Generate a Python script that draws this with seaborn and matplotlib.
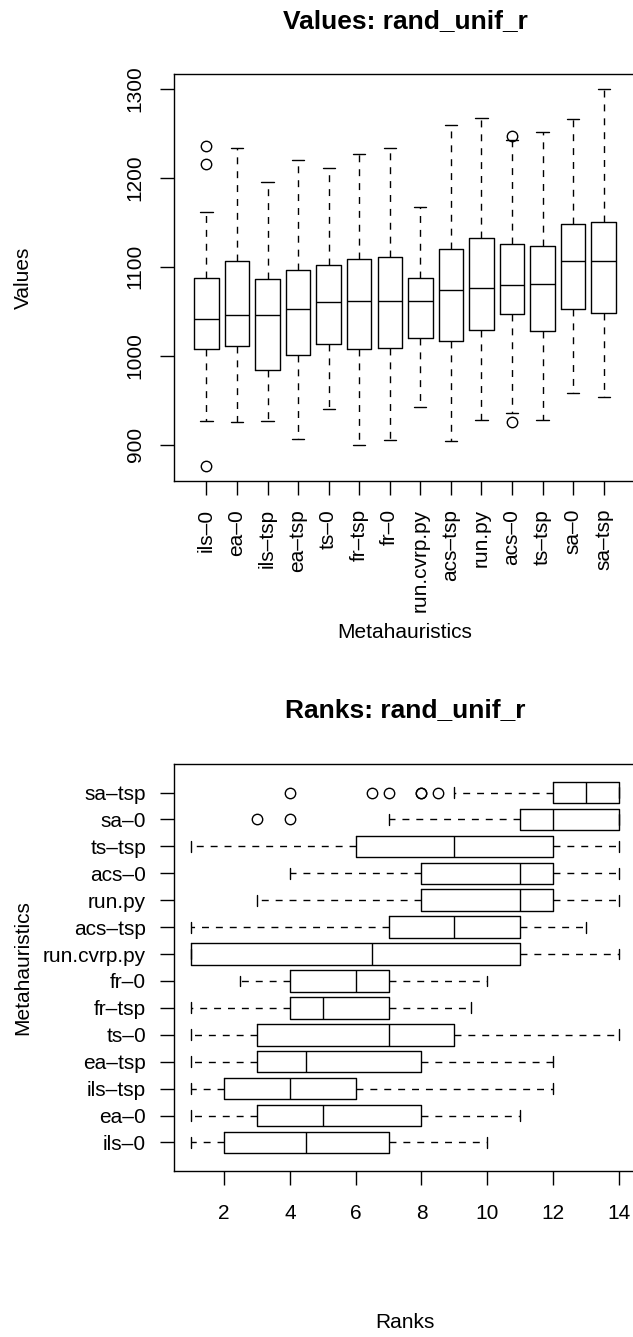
"""
Boxplots of metaheuristic results on rand_unif_r:
raw values (top) and per-instance ranks (bottom), R base-graphics look.
"""

import pandas as pd
import matplotlib
matplotlib.use("Agg")
import matplotlib.pyplot as plt
import seaborn as sns

W, H, DPI = 633, 1337, 100

methods = ["ils–0", "ea–0", "ils–tsp", "ea–tsp", "ts–0", "fr–tsp", "fr–0",
           "run.cvrp.py", "acs–tsp", "run.py", "acs–0", "ts–tsp", "sa–0", "sa–tsp"]

# Values panel, box statistics (same order as methods)
val_lo = [927, 925, 927, 906, 940, 899, 905, 942, 904, 928, 936, 928, 958, 954]
val_q1 = [1007, 1011, 984, 1001, 1013, 1007, 1009, 1020, 1016, 1029, 1047, 1028, 1053, 1048]
val_med = [1041, 1046, 1046, 1052, 1060, 1061, 1061, 1061, 1074, 1076, 1079, 1081, 1107, 1107]
val_q3 = [1087, 1107, 1086, 1096, 1102, 1109, 1111, 1087, 1120, 1132, 1126, 1123, 1148, 1151]
val_hi = [1162, 1234, 1196, 1220, 1211, 1227, 1234, 1167, 1260, 1267, 1243, 1252, 1266, 1300]
val_fliers = [[876, 1216, 1236], [], [], [], [], [], [], [], [], [], [925, 1247], [], [], []]

# Ranks panel
rank_lo = [1, 1, 1, 1, 1, 1, 2.5, 1, 1, 3, 4, 1, 7, 9]
rank_q1 = [2, 3, 2, 3, 3, 4, 4, 1, 7, 8, 8, 6, 11, 12]
rank_med = [4.5, 5, 4, 4.5, 7, 5, 6, 6.5, 9, 11, 11, 9, 12, 13]
rank_q3 = [7, 8, 6, 8, 9, 7, 7, 11, 11, 12, 12, 12, 14, 14]
rank_hi = [10, 11, 12, 12, 14, 9.5, 10, 14, 13, 14, 14, 14, 14, 14]
rank_fliers = [[], [], [], [], [], [], [], [], [], [], [], [], [3, 4], [4, 6.5, 7, 8, 8, 8.5]]


def box_sample(lo, q1, med, q3, hi, fliers):
    # 4k+1 points so that np.percentile lands exactly on q1/med/q3
    low = sorted(f for f in fliers if f < q1)
    high = sorted(f for f in fliers if f > q3)
    k = max(len(low), len(high)) + 1
    return (low + [lo] * (k - len(low)) + [q1] * k + [med] * k + [q3]
            + [hi] * (k - len(high)) + high)


def long_frame(lo, q1, med, q3, hi, fliers):
    rows = []
    for i, m in enumerate(methods):
        for v in box_sample(lo[i], q1[i], med[i], q3[i], hi[i], fliers[i]):
            rows.append((m, v))
    return pd.DataFrame(rows, columns=["method", "value"])


def px_rect(x0, y0, x1, y1):
    return [x0 / W, 1 - y1 / H, (x1 - x0) / W, (y1 - y0) / H]


def fig_text(fig, x, y, s, **kw):
    fig.text(x / W, 1 - y / H, s, ha="center", va="center", color="black", **kw)


sns.set_theme(style="white")
plt.rcParams["font.family"] = ["Liberation Sans", "DejaVu Sans"]
plt.rcParams["axes.edgecolor"] = "black"
plt.rcParams["axes.linewidth"] = 1.0
plt.rcParams["text.color"] = "black"

FS = 15
box_kw = dict(
    fill=False, color="black", linecolor="black", width=0.8, whis=1.5,
    linewidth=1.0, fliersize=7.5,
    boxprops=dict(color="black", linewidth=1.0),
    whiskerprops=dict(color="black", linewidth=1.0, linestyle=(0, (5, 5))),
    capprops=dict(color="black", linewidth=1.0),
    medianprops=dict(color="black", linewidth=1.0),
    flierprops=dict(marker="o", markerfacecolor="none", markeredgecolor="black",
                    markeredgewidth=1.0, markersize=7.5),
)

val_df = long_frame(val_lo, val_q1, val_med, val_q3, val_hi, val_fliers)
rank_df = long_frame(rank_lo, rank_q1, rank_med, rank_q3, rank_hi, rank_fliers)

fig = plt.figure(figsize=(W / DPI, H / DPI), dpi=DPI)
fig.patch.set_facecolor("white")

# 1) Values
ax1 = fig.add_axes(px_rect(174, 74, 636, 481))
sns.boxplot(data=val_df, x="method", y="value", order=methods, ax=ax1, **box_kw)
ax1.set_xlim(-1.06, 14.06)
ax1.set_ylim(859, 1317)
ax1.set_yticks([900, 1000, 1100, 1200, 1300])
ax1.set_xlabel("")
ax1.set_ylabel("")
ax1.tick_params(axis="both", direction="out", length=10, width=1, color="black",
                labelsize=FS, labelcolor="black", left=True, bottom=True)
ax1.tick_params(axis="x", labelrotation=90, pad=10)
ax1.tick_params(axis="y", labelrotation=90, pad=11)
for t in ax1.get_yticklabels():
    t.set_va("center")

fig_text(fig, 405, 21, "Values: rand_unif_r", fontsize=19, fontweight="bold")
fig_text(fig, 23, 277.5, "Values", fontsize=FS, rotation=90)
fig_text(fig, 405, 633, "Metahauristics", fontsize=FS)

# 2) Ranks
ax2 = fig.add_axes(px_rect(174, 764, 636, 1171))
sns.boxplot(data=rank_df, x="value", y="method", order=methods[::-1], orient="y",
            ax=ax2, **box_kw)
ax2.set_xlim(0.48, 14.52)
ax2.set_ylim(14.06, -1.06)
ax2.set_xticks([2, 4, 6, 8, 10, 12, 14])
ax2.set_xlabel("")
ax2.set_ylabel("")
ax2.tick_params(axis="both", direction="out", length=10, width=1, color="black",
                labelsize=FS, labelcolor="black", left=True, bottom=True)
ax2.tick_params(axis="x", pad=14)
ax2.tick_params(axis="y", pad=10)

fig_text(fig, 405, 710, "Ranks: rand_unif_r", fontsize=19, fontweight="bold")
fig_text(fig, 23, 967.5, "Metahauristics", fontsize=FS, rotation=90)
fig_text(fig, 405, 1323, "Ranks", fontsize=FS)

for ax in (ax1, ax2):
    for sp in ax.spines.values():
        sp.set_visible(True)
        sp.set_color("black")
        sp.set_linewidth(1.0)

fig.savefig("out.png", dpi=DPI, facecolor="white")
